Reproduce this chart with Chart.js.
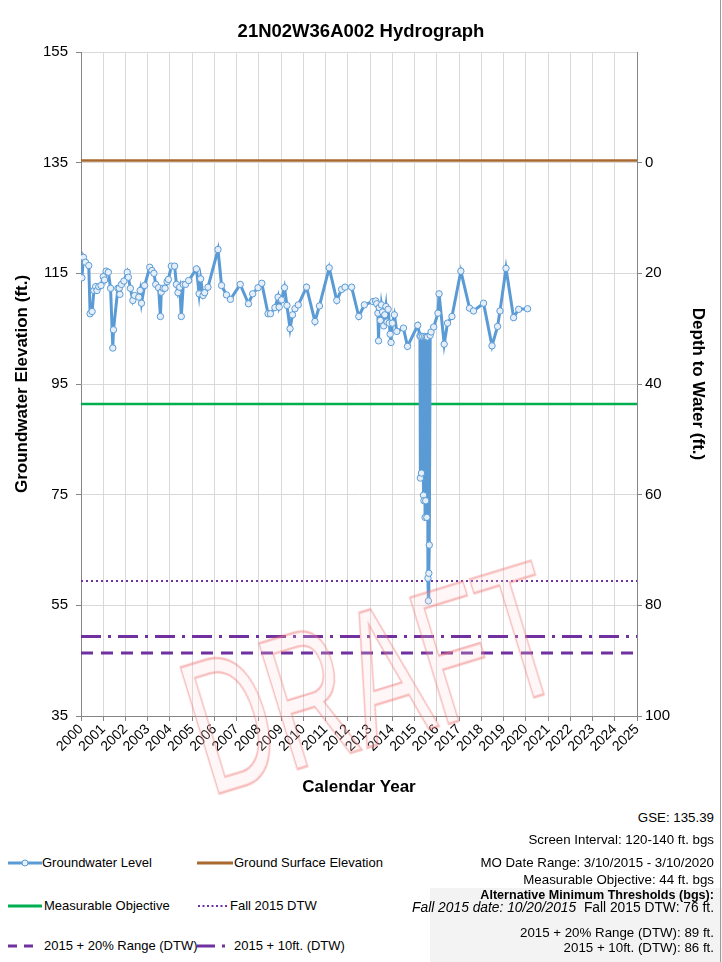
<!DOCTYPE html>
<html><head><meta charset="utf-8">
<script src="https://cdn.jsdelivr.net/npm/chart.js@4"></script>
<style>
html,body{margin:0;padding:0;background:#fff;}
body{width:722px;height:962px;overflow:hidden;position:relative;font-family:"Liberation Sans",Arial,sans-serif;color:#000;}
#wrap{position:absolute;left:0;top:0;width:722px;height:800px;}
#title{position:absolute;top:20px;left:0;width:722px;text-align:center;font-weight:bold;font-size:18.5px;}
#draft{position:absolute;left:163px;top:642px;font-family:"Liberation Sans",sans-serif;font-size:132px;color:rgba(255,215,215,0.2);-webkit-text-stroke:1.6px rgba(238,110,110,0.45);transform-origin:0 0;transform:rotate(-17deg) scale(0.86,1.45);pointer-events:none;white-space:nowrap;line-height:1;}
.lg{position:absolute;font-size:13px;white-space:nowrap;line-height:16px;}
.sw{position:absolute;}
.in{position:absolute;right:8px;font-size:13.3px;line-height:16px;white-space:nowrap;text-align:right;}
#grey{position:absolute;left:430px;top:888px;width:292px;height:74px;background:#f3f3f3;}
#rb{position:absolute;left:720px;top:0;width:1px;height:962px;background:#9a9a9a;}
</style></head>
<body>
<div id="grey"></div>
<div id="wrap"><canvas id="c" width="722" height="800"></canvas></div>
<div id="title">21N02W36A002 Hydrograph</div>
<div id="draft">DRAFT</div>
<div id="rb"></div>

<svg class="sw" style="left:8px;top:855px" width="34" height="16"><line x1="0" y1="8" x2="34" y2="8" stroke="#5B9BD5" stroke-width="3"/><circle cx="17" cy="8" r="3" fill="#e8f0fa" stroke="#5B9BD5" stroke-width="1"/></svg>
<div class="lg" style="left:42px;top:855px">Groundwater Level</div>
<svg class="sw" style="left:197px;top:855px" width="36" height="16"><line x1="0" y1="8" x2="36" y2="8" stroke="#A8682E" stroke-width="3"/></svg>
<div class="lg" style="left:234px;top:855px">Ground Surface Elevation</div>

<svg class="sw" style="left:8px;top:898px" width="34" height="16"><line x1="0" y1="8" x2="34" y2="8" stroke="#00B050" stroke-width="3"/></svg>
<div class="lg" style="left:44px;top:898px">Measurable Objective</div>
<svg class="sw" style="left:198px;top:898px" width="30" height="16"><line x1="0" y1="8" x2="30" y2="8" stroke="#7030A0" stroke-width="2" stroke-dasharray="2,2.5"/></svg>
<div class="lg" style="left:230px;top:898px">Fall 2015 DTW</div>

<svg class="sw" style="left:8px;top:938px" width="28" height="16"><line x1="0" y1="8" x2="28" y2="8" stroke="#7030A0" stroke-width="3" stroke-dasharray="9,7"/></svg>
<div class="lg" style="left:44px;top:938px">2015 + 20% Range (DTW)</div>
<svg class="sw" style="left:197px;top:938px" width="30" height="16"><line x1="0" y1="8" x2="30" y2="8" stroke="#7030A0" stroke-width="3" stroke-dasharray="18,7,3,10"/></svg>
<div class="lg" style="left:234px;top:938px">2015 + 10ft. (DTW)</div>

<div class="in" style="top:810px">GSE: 135.39</div>
<div class="in" style="top:832px">Screen Interval: 120-140 ft. bgs</div>
<div class="in" style="top:855px">MO Date Range: 3/10/2015 - 3/10/2020</div>
<div class="in" style="top:872px">Measurable Objective: 44 ft. bgs</div>
<div class="in" style="top:887px;font-weight:bold;font-size:12.6px">Alternative Minimum Thresholds (bgs):</div>
<div class="in" style="top:900px;font-size:13.8px"><i>Fall 2015 date: 10/20/2015</i>&nbsp;&nbsp;Fall 2015 DTW: 76 ft.</div>
<div class="in" style="top:925px">2015 + 20% Range (DTW): 89 ft.</div>
<div class="in" style="top:940px">2015 + 10ft. (DTW): 86 ft.</div>

<script>
// ---- data ----
const gwYears = [
2000.04,2000.11,2000.20,2000.35,2000.41,2000.50,2000.58,2000.66,2000.72,2000.80,2000.90,
2001.00,2001.06,2001.13,2001.23,2001.33,2001.43,2001.46,2001.66,2001.72,2001.75,2001.82,2001.93,
2002.08,2002.13,2002.22,2002.33,2002.41,2002.60,2002.66,2002.72,2002.86,
2003.09,2003.19,2003.28,2003.36,2003.49,2003.57,2003.61,2003.70,2003.78,2003.87,2003.93,
2004.06,2004.21,2004.29,2004.36,2004.44,2004.51,2004.60,2004.70,2004.84,
2005.19,2005.31,2005.38,2005.49,2005.56,2005.71,
2006.16,2006.32,2006.54,2006.72,
2007.16,2007.53,2007.72,2007.96,
2008.13,2008.41,2008.52,2008.72,2008.86,2008.91,
2009.02,2009.15,2009.26,2009.40,2009.51,2009.62,2009.77,
2010.14,2010.52,2010.72,
2011.16,2011.50,2011.72,2011.87,
2012.17,2012.49,2012.74,
2013.13,2013.25,2013.30,2013.35,2013.38,2013.41,2013.46,2013.51,2013.56,2013.61,2013.66,2013.71,2013.76,2013.81,2013.86,2013.90,2013.94,
2014.00,2014.09,2014.20,2014.50,2014.68,
2015.14,2015.24,2015.26,2015.28,2015.31,2015.36,2015.40,2015.42,2015.45,2015.47,2015.50,2015.52,2015.55,2015.58,2015.60,2015.62,2015.64,2015.66,2015.70,2015.74,2015.86,
2016.05,2016.10,2016.33,2016.48,2016.68,
2017.08,2017.47,2017.65,
2018.10,2018.48,2018.73,2018.84,
2019.11,2019.45,2019.68,
2020.08];
const gwLevels = [
114.2,117.9,117.0,116.4,107.7,108.1,111.9,112.6,111.9,112.6,112.8,
114.4,113.8,115.4,115.2,112.3,101.5,104.8,112.3,112.3,111.2,113.0,113.6,
115.2,114.3,112.3,110.1,111.0,110.7,111.9,109.6,112.8,
116.1,115.5,115.0,113.0,112.4,107.2,111.6,112.3,112.3,113.5,113.9,
116.3,116.3,113.0,111.5,112.5,107.2,113.0,113.0,113.7,
115.8,111.3,114.0,111.0,111.5,112.5,
119.3,112.8,111.1,110.3,
113.0,109.5,111.3,112.4,
113.2,107.7,107.7,108.8,110.7,108.9,
110.2,112.4,109.2,105.0,107.5,108.6,109.3,
112.5,106.3,109.1,
116.0,110.1,112.1,112.5,
112.5,107.2,109.3,
109.9,110.0,109.5,107.8,102.8,108.8,106.5,109.3,108.0,105.5,107.5,109.0,106.2,108.5,106.0,104.0,102.5,
106.0,107.5,104.5,105.1,101.8,
105.6,103.7,78.0,103.6,78.9,103.6,74.9,73.9,103.6,70.9,73.9,103.5,70.9,103.5,59.9,55.8,60.8,65.9,103.8,104.4,105.3,
107.8,111.3,102.2,106.0,107.2,
115.4,108.7,108.2,
109.6,101.9,105.4,108.2,
115.9,107.0,108.5,
108.6];

const refNames = ['Ground Surface Elevation','Measurable Objective','Fall 2015 DTW','2015 + 20% Range (DTW)','2015 + 10ft. (DTW)'];
const refElev  = [135.39, 91.39, 59.39, 46.39, 49.39];

const yearLabels = ['2000','2001','2002','2003','2004','2005','2006','2007','2008','2009','2010','2011','2012','2013','2014','2015','2016','2017','2018','2019','2020','2021','2022','2023','2024','2025'];
const elevTicks = [35,55,75,95,115,135,155];
const depthTicks = [0,20,40,60,80,100];

// ---- styles ----
const FONT = '"Liberation Sans",Arial,sans-serif';
const refStyles = [
  {color:'#A8682E', width:2.5, dash:[]},
  {color:'#00B050', width:2.5, dash:[]},
  {color:'#7030A0', width:2, dash:[2,3]},
  {color:'#7030A0', width:3, dash:[12,8]},
  {color:'#7030A0', width:3, dash:[20,7,3,7]}
];

const xMin = Number(yearLabels[0]), xMax = Number(yearLabels[yearLabels.length-1]);
const yMin = elevTicks[0], yMax = elevTicks[elevTicks.length-1];
const gse = 135; // depth 0 aligned with elevation 135 on the chart

const datasets = [];
refNames.forEach((n,i)=>{
  datasets.push({
    label:n,
    data:[{x:xMin,y:refElev[i]},{x:xMax,y:refElev[i]}],
    borderColor:refStyles[i].color,
    borderWidth:refStyles[i].width,
    borderDash:refStyles[i].dash,
    pointRadius:0,
    fill:false,
    order:2
  });
});
datasets.push({
  label:'Groundwater Level',
  data:gwYears.map((x,i)=>({x:x,y:gwLevels[i]})),
  borderColor:'#5B9BD5',
  borderWidth:3,
  pointRadius:3.2,
  pointBorderWidth:1,
  pointBackgroundColor:'#e6eff9',
  pointBorderColor:'#5B9BD5',
  tension:0,
  order:1
});

new Chart(document.getElementById('c'),{
  type:'line',
  data:{datasets:datasets},
  options:{
    responsive:false,
    animation:false,
    layout:{padding:{top:52,left:0,right:0,bottom:0}},
    plugins:{legend:{display:false},tooltip:{enabled:false},title:{display:false}},
    scales:{
      x:{
        type:'linear',min:xMin,max:xMax,
        afterFit:(s)=>{s.height=84;},
        afterBuildTicks:(s)=>{s.ticks=yearLabels.map(v=>({value:Number(v)}));},
        ticks:{autoSkip:false,minRotation:45,maxRotation:45,padding:0,
               font:{family:FONT,size:14},color:'#000',
               callback:(v)=>String(v)},
        grid:{color:'#d9d9d9',lineWidth:1,tickLength:5,tickColor:'#868686'},
        border:{color:'#868686',width:1},
        title:{display:true,text:'Calendar Year',font:{family:FONT,size:17,weight:'bold'},color:'#000',padding:{top:0,bottom:2}}
      },
      y:{
        type:'linear',position:'left',min:yMin,max:yMax,
        afterFit:(s)=>{s.width=81;},
        afterBuildTicks:(s)=>{s.ticks=elevTicks.map(v=>({value:v}));},
        ticks:{font:{family:FONT,size:15},color:'#000',padding:8},
        grid:{color:'#d9d9d9',lineWidth:1,tickLength:5,tickColor:'#868686'},
        border:{color:'#868686',width:1},
        title:{display:true,text:'Groundwater Elevation (ft.)',font:{family:FONT,size:17,weight:'bold'},color:'#000',padding:12}
      },
      y2:{
        type:'linear',position:'right',min:gse-yMax,max:gse-yMin,reverse:true,
        afterFit:(s)=>{s.width=85;},
        afterBuildTicks:(s)=>{s.ticks=depthTicks.map(v=>({value:v}));},
        ticks:{font:{family:FONT,size:15},color:'#000',padding:3},
        grid:{drawOnChartArea:false,tickLength:5,tickColor:'#868686'},
        border:{color:'#868686',width:1},
        title:{display:true,text:'Depth to Water (ft.)',font:{family:FONT,size:17,weight:'bold'},color:'#000',padding:14}
      }
    }
  }
});
</script>
</body></html>
